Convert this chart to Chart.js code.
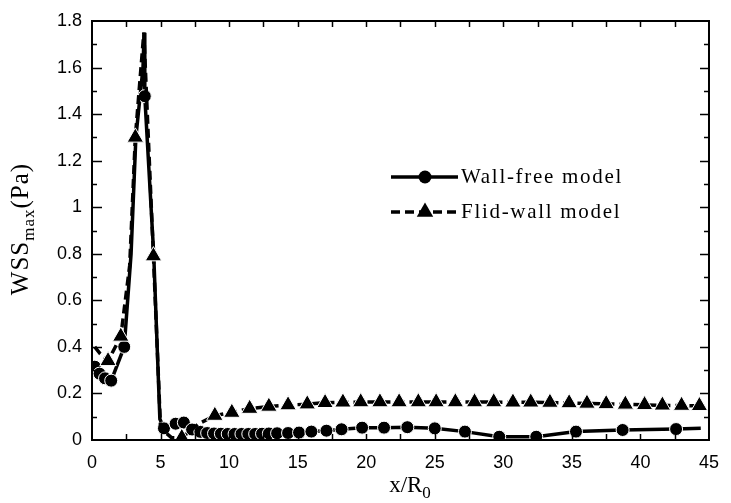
<!DOCTYPE html>
<html><head><meta charset="utf-8">
<script src="https://cdn.jsdelivr.net/npm/chart.js@4"></script>
<style>html,body{margin:0;padding:0;background:#fff}#wrap{width:731px;height:503px;position:relative}</style>
</head><body><div id="wrap"><canvas id="c"></canvas></div>
<script>
// ---- data ----
const seriesNames = ['Wall-free model', 'Flid-wall model'];
const wallFreeX = [0.2, 0.55, 0.95, 1.4, 2.35, 2.85, 3.2, 3.72, 3.8, 3.85, 4.5, 4.95, 5.25, 6.1, 6.7, 7.3, 7.9, 8.4, 8.9, 9.4, 9.9, 10.4, 10.9, 11.4, 11.9, 12.4, 12.9, 13.5, 14.3, 15.1, 16.0, 17.1, 18.2, 19.7, 21.3, 23.0, 25.0, 27.2, 29.7, 32.4, 35.3, 38.7, 42.6, 44.4];
const wallFreeY = [0.315, 0.285, 0.265, 0.255, 0.40, 0.80, 1.30, 1.60, 1.75, 1.477, 0.80, 0.09, 0.05, 0.07, 0.075, 0.045, 0.035, 0.03, 0.028, 0.027, 0.026, 0.026, 0.026, 0.026, 0.026, 0.027, 0.028, 0.029, 0.03, 0.032, 0.036, 0.04, 0.046, 0.053, 0.053, 0.055, 0.05, 0.036, 0.014, 0.014, 0.036, 0.043, 0.047, 0.05];
const wallFreeLineOnly = [5, 6, 7, 8, 10, 11, 43];
const flidWallX = [0.2, 0.6, 1.17, 2.1, 2.75, 3.16, 3.78, 4.48, 5.0, 5.8, 6.55, 7.8, 8.96, 10.2, 11.5, 12.9, 14.3, 15.7, 17.0, 18.3, 19.6, 21.0, 22.4, 23.8, 25.1, 26.5, 27.9, 29.3, 30.7, 32.0, 33.4, 34.8, 36.1, 37.5, 38.9, 40.3, 41.6, 43.0, 44.3];
const flidWallY = [0.40, 0.37, 0.34, 0.445, 0.75, 1.30, 1.75, 0.79, 0.05, 0.01, 0.01, 0.07, 0.105, 0.118, 0.135, 0.144, 0.15, 0.154, 0.16, 0.162, 0.163, 0.163, 0.163, 0.163, 0.163, 0.163, 0.163, 0.163, 0.162, 0.162, 0.161, 0.159, 0.157, 0.155, 0.153, 0.151, 0.149, 0.148, 0.147];
const flidWallLineOnly = [0, 1, 4, 6, 8, 9, 11];
const xTickValues = [0, 5, 10, 15, 20, 25, 30, 35, 40, 45];
const yTickValues = [0, 0.2, 0.4, 0.6, 0.8, 1, 1.2, 1.4, 1.6, 1.8];
const xTitle = ['x/R', '0'];
const yTitle = ['WSS', 'max', '(Pa)'];

const toPts = (xs, ys) => xs.map((x, i) => ({x, y: ys[i]}));
const SERIF = '"Liberation Serif", "Times New Roman", serif';
const SANS = '"Liberation Sans", Arial, sans-serif';

const framePlugin = {
  id: 'frame',
  afterDatasetsDraw(chart) {
    const {ctx, chartArea: a, scales: {x, y}} = chart;
    ctx.save();
    ctx.strokeStyle = '#000';
    ctx.lineWidth = 1.5;
    for (let v = 2.5; v < 45; v += 2.5) {
      const px = Math.round(x.getPixelForValue(v)) + 0.5;
      ctx.beginPath(); ctx.moveTo(px, a.bottom); ctx.lineTo(px, a.bottom - 6); ctx.stroke();
      ctx.beginPath(); ctx.moveTo(px, a.top); ctx.lineTo(px, a.top + 6); ctx.stroke();
    }
    for (let k = 1; k < 18; k++) {
      const py = Math.round(y.getPixelForValue(k / 10)) + 0.5;
      const major = k % 2 === 0;
      ctx.beginPath(); ctx.moveTo(a.left, py); ctx.lineTo(a.left + (major ? 10 : 5), py); ctx.stroke();
      ctx.beginPath(); ctx.moveTo(a.right, py); ctx.lineTo(a.right - (major ? 9 : 5), py); ctx.stroke();
    }
    ctx.lineWidth = 2;
    ctx.strokeRect(a.left, a.top, a.right - a.left, a.bottom - a.top);
    ctx.restore();
  },
  afterDraw(chart) {
    const {ctx} = chart;
    ctx.save();
    ctx.fillStyle = '#000';
    const spacing = 'letterSpacing' in ctx;
    // x title with subscript
    let main = '23px ' + SERIF, sub = '17px ' + SERIF;
    ctx.font = main; const w1 = ctx.measureText(xTitle[0]).width;
    ctx.font = sub; const w2 = ctx.measureText(xTitle[1]).width;
    const sx = 410 - (w1 + w2) / 2;
    ctx.textBaseline = 'alphabetic'; ctx.textAlign = 'left';
    ctx.font = main; ctx.fillText(xTitle[0], sx, 492);
    ctx.font = sub; ctx.fillText(xTitle[1], sx + w1, 498);
    // y title rotated
    if (spacing) ctx.letterSpacing = '1px';
    main = '25px ' + SERIF; sub = '17px ' + SERIF;
    ctx.translate(28, 229);
    ctx.rotate(-Math.PI / 2);
    ctx.font = main; const a1 = ctx.measureText(yTitle[0]).width, a3 = ctx.measureText(yTitle[2]).width;
    ctx.font = sub; const a2 = ctx.measureText(yTitle[1]).width;
    const s = -(a1 + a2 + a3) / 2;
    ctx.font = main; ctx.fillText(yTitle[0], s, 0);
    ctx.font = sub; ctx.fillText(yTitle[1], s + a1, 6);
    ctx.font = main; ctx.fillText(yTitle[2], s + a1 + a2, 0);
    ctx.restore();

    // legend
    ctx.save();
    ctx.strokeStyle = '#000'; ctx.fillStyle = '#000'; ctx.lineWidth = 3.5;
    const rows = [177, 212];
    ctx.beginPath(); ctx.moveTo(391, rows[0]); ctx.lineTo(458, rows[0]); ctx.stroke();
    ctx.beginPath(); ctx.arc(425, rows[0], 6.5, 0, Math.PI * 2); ctx.fill();
    ctx.setLineDash([9, 5]);
    ctx.beginPath(); ctx.moveTo(391, rows[1]); ctx.lineTo(458, rows[1]); ctx.stroke();
    ctx.setLineDash([]);
    const r = 9.5;
    ctx.beginPath();
    for (let i = 0; i < 3; i++) {
      const ang = i * 2 * Math.PI / 3;
      const px = 425 + Math.sin(ang) * r, py = rows[1] - Math.cos(ang) * r;
      i ? ctx.lineTo(px, py) : ctx.moveTo(px, py);
    }
    ctx.closePath(); ctx.fill();
    ctx.font = '21px ' + SERIF;
    if (spacing) ctx.letterSpacing = '1.7px';
    ctx.textBaseline = 'middle'; ctx.textAlign = 'left';
    ctx.fillText(seriesNames[0], 461, rows[0]);
    ctx.fillText(seriesNames[1], 461, rows[1]);
    ctx.restore();
  }
};

new Chart(document.getElementById('c'), {
  type: 'scatter',
  data: {
    datasets: [
      {
        label: seriesNames[1],
        data: toPts(flidWallX, flidWallY),
        showLine: true,
        borderColor: '#000', backgroundColor: '#000',
        borderWidth: 3.5, borderDash: [9, 5],
        pointStyle: 'triangle',
        pointRadius: c => flidWallLineOnly.includes(c.dataIndex) ? 0 : 9.5,
        pointBackgroundColor: '#000', pointBorderColor: '#fff', pointBorderWidth: 1,
        clip: 1
      },
      {
        label: seriesNames[0],
        data: toPts(wallFreeX, wallFreeY),
        showLine: true,
        borderColor: '#000', backgroundColor: '#000',
        borderWidth: 3.5,
        pointStyle: 'circle',
        pointRadius: c => wallFreeLineOnly.includes(c.dataIndex) ? 0 : 6.5,
        pointBackgroundColor: '#000', pointBorderColor: '#fff', pointBorderWidth: 1,
        clip: 1
      }
    ]
  },
  options: {
    responsive: true, maintainAspectRatio: false, animation: false,
    layout: {padding: {top: 21, right: 13, left: 0, bottom: 0}},
    plugins: {legend: {display: false}, tooltip: {enabled: false}},
    elements: {line: {tension: 0}},
    scales: {
      x: {
        type: 'linear', min: 0, max: 45,
        afterBuildTicks: s => { s.ticks = xTickValues.map(v => ({value: v})); },
        afterFit: s => { s.height = 63; },
        grid: {display: false, drawTicks: false},
        border: {display: false},
        ticks: {color: '#000', font: {family: SANS, size: 18}, padding: 12, maxRotation: 0, autoSkip: false,
                callback: v => String(v)}
      },
      y: {
        type: 'linear', min: 0, max: 1.8,
        afterBuildTicks: s => { s.ticks = yTickValues.map(v => ({value: v})); },
        afterFit: s => { s.width = 92; },
        grid: {display: false, drawTicks: false},
        border: {display: false},
        ticks: {color: '#000', font: {family: SANS, size: 18}, padding: 10, autoSkip: false,
                callback: v => String(v)}
      }
    }
  },
  plugins: [framePlugin]
});
</script></body></html>
